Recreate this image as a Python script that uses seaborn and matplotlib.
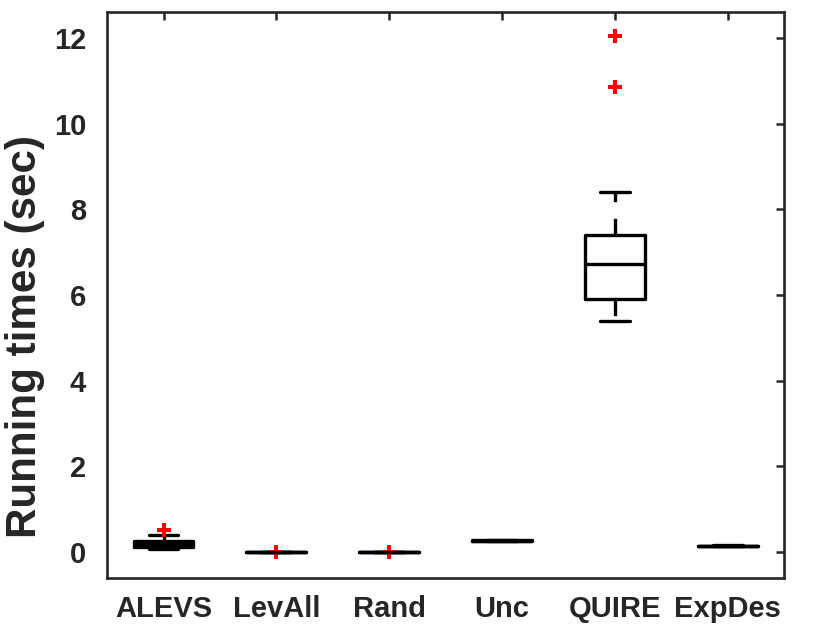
import matplotlib
matplotlib.use('Agg')
import matplotlib.pyplot as plt
import seaborn as sns
import pandas as pd

# running times (sec) per method
methods = ['ALEVS', 'LevAll', 'Rand', 'Unc', 'QUIRE', 'ExpDes']
alevs_times = [0.08, 0.10, 0.12, 0.16, 0.20, 0.23, 0.26, 0.40, 0.51]
levall_times = [0.01, 0.01, 0.01, 0.01, 0.01, 0.01, 0.01, 0.01, 0.015]
rand_times = [0.005, 0.005, 0.005, 0.005, 0.005, 0.005, 0.005, 0.005, 0.01]
unc_times = [0.25, 0.255, 0.26, 0.265, 0.27, 0.275, 0.28, 0.285, 0.29]
quire_times = [5.39, 5.6, 5.8, 5.91, 6.2, 6.5, 6.72, 7.0, 7.2, 7.40, 8.41, 10.86, 12.05]
expdes_times = [0.14, 0.142, 0.145, 0.148, 0.15, 0.152, 0.155, 0.158, 0.16]

all_times = [alevs_times, levall_times, rand_times, unc_times, quire_times, expdes_times]
df = pd.DataFrame({
    'method': [m for m, t in zip(methods, all_times) for _ in t],
    'time': [v for t in all_times for v in t],
})

sns.set_theme(style='white')
plt.rcParams['font.family'] = ['Liberation Sans', 'DejaVu Sans']
plt.rcParams['font.weight'] = 'bold'
plt.rcParams['axes.labelweight'] = 'bold'

fig, ax = plt.subplots(figsize=(8.3, 6.4), dpi=100)
fig.subplots_adjust(left=0.129, right=0.945, bottom=0.097, top=0.981)

sns.boxplot(data=df, x='method', y='time', order=methods, color='black',
            fill=False, width=0.53, whis=1.5, linewidth=2.4, ax=ax,
            whiskerprops=dict(linestyle=(0, (5, 5)), color='black', linewidth=2.4),
            capprops=dict(color='black', linewidth=2.4),
            medianprops=dict(color='black', linewidth=2.4),
            flierprops=dict(marker='P', markerfacecolor='red', markeredgecolor='red',
                            markersize=10, markeredgewidth=0))

ax.set_xlim(-0.5, 5.5)
ax.set_ylim(-0.6, 12.6)
ax.set_yticks(range(0, 13, 2))
ax.set_xlabel('')
ax.set_ylabel('Running times (sec)', fontsize=30.3, fontweight='bold', color='#262626')
ax.yaxis.set_label_coords(-0.092, 0.4276)
ax.tick_params(axis='both', direction='in', top=True, right=True, length=6,
               width=1.8, color='#262626', labelsize=21, labelcolor='#262626')
ax.tick_params(axis='x', pad=12)
ax.tick_params(axis='y', pad=15)
for lab in ax.get_xticklabels() + ax.get_yticklabels():
    lab.set_fontweight('bold')
for sp in ax.spines.values():
    sp.set_visible(True)
    sp.set_linewidth(1.9)
    sp.set_color('#262626')

fig.savefig('out.png', dpi=100)
